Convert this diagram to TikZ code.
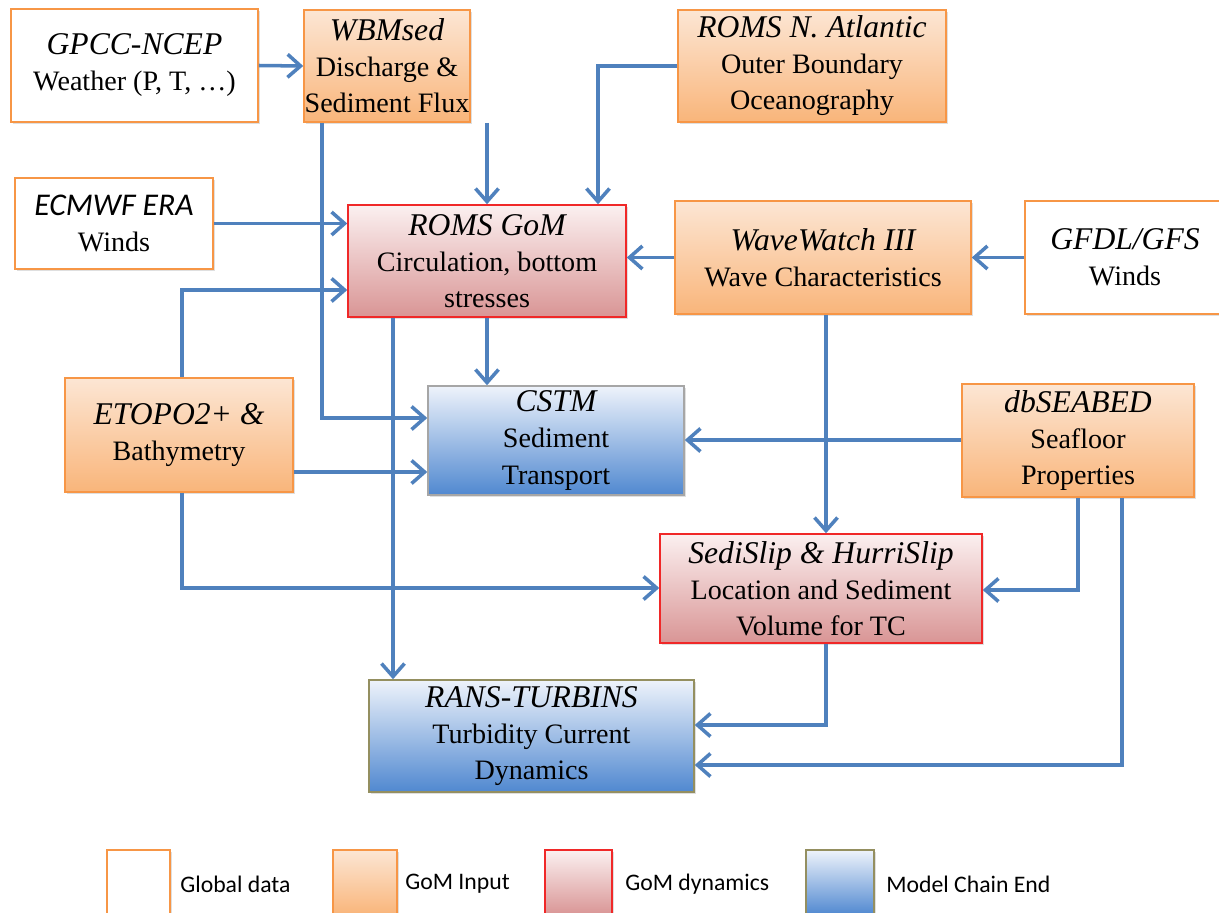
\documentclass[tikz,border=0pt]{standalone}
\usepackage{fontspec}
\setmainfont{Liberation Serif}
\newfontfamily\legendfont{Carlito}
\usetikzlibrary{arrows.meta,shadows}
\definecolor{arrowblue}{HTML}{4F81BD}
\definecolor{orangeline}{HTML}{F79646}
\definecolor{orangetop}{HTML}{FCE6D4}
\definecolor{orangebot}{HTML}{F9B57A}
\definecolor{redline}{HTML}{F02828}
\definecolor{redtop}{HTML}{FBF0F0}
\definecolor{redbot}{HTML}{D99595}
\definecolor{bluetop}{HTML}{EEF3FB}
\definecolor{bluebot}{HTML}{5088D0}
\definecolor{greyline}{HTML}{A6A6A6}
\definecolor{oliveline}{HTML}{948F60}
\begin{document}
\begin{tikzpicture}[x=0.02cm,y=-0.02cm,
  base/.style={rectangle, align=center, inner sep=0pt, line width=0.9pt,
    font=\rmfamily\fontsize{16}{20.5}\selectfont,
    drop shadow={shadow xshift=1.2pt, shadow yshift=-1.2pt, opacity=0.25}},
  globalbox/.style={base, draw=orangeline, fill=white},
  inputbox/.style={base, draw=orangeline, top color=orangetop, bottom color=orangebot},
  dynbox/.style={base, draw=redline, top color=redtop, bottom color=redbot},
  endbox/.style={base, draw=greyline, top color=bluetop, bottom color=bluebot},
  arr/.style={draw=arrowblue, line width=2pt, -{Straight Barb[length=2.6mm,width=4.6mm]}},
  legtext/.style={font=\legendfont\fontsize{13.5}{16}\selectfont, anchor=west, inner sep=0pt}
]
\useasboundingbox (0,0) rectangle (1219,912);
\fill[white] (0,0) rectangle (1219,912);
\newcommand{\tl}[1]{{\rmfamily\fontsize{18}{21}\selectfont\itshape #1}}

% nodes
\node[globalbox, minimum width=4.94cm, minimum height=2.26cm] (gpcc) at (134.5,65.5)
  {\tl{GPCC-NCEP}\\Weather (P, T, …)};
\node[inputbox, minimum width=3.32cm, minimum height=2.24cm] (wbm) at (387,66)
  {\tl{WBMsed}\\Discharge \&\\Sediment Flux};
\node[inputbox, minimum width=5.36cm, minimum height=2.24cm] (roa) at (812,66)
  {\tl{ROMS N. Atlantic}\\Outer Boundary\\Oceanography};
\node[globalbox, minimum width=3.96cm, minimum height=1.82cm] (ecmwf) at (114,223.5)
  {{\legendfont\fontsize{18}{21}\selectfont\itshape ECMWF ERA}\\Winds};
\node[dynbox, minimum width=5.56cm, minimum height=2.24cm] (gom) at (487,261)
  {\tl{ROMS GoM}\\Circulation, bottom\\stresses};
\node[inputbox, minimum width=5.92cm, minimum height=2.26cm] (ww) at (823,257.5)
  {\tl{WaveWatch III}\\Wave Characteristics};
\node[globalbox, minimum width=4.0cm, minimum height=2.26cm] (gfdl) at (1125,257.5)
  {\tl{GFDL/GFS}\\Winds};
\node[inputbox, minimum width=4.56cm, minimum height=2.28cm] (etopo) at (179,435)
  {\tl{ETOPO2+ \&}\\Bathymetry};
\node[endbox, minimum width=5.12cm, minimum height=2.18cm] (cstm) at (556,440.5)
  {\tl{CSTM}\\Sediment\\Transport};
\node[inputbox, minimum width=4.64cm, minimum height=2.26cm] (seabed) at (1078,440.5)
  {\tl{dbSEABED}\\Seafloor\\Properties};
\node[dynbox, minimum width=6.44cm, minimum height=2.18cm] (sedi) at (821,588.5)
  {\tl{SediSlip \& HurriSlip}\\Location and Sediment\\Volume for TC};
\node[endbox, draw=oliveline, minimum width=6.5cm, minimum height=2.24cm] (rans) at (531.5,736)
  {\tl{RANS-TURBINS}\\Turbidity Current\\Dynamics};

% connectors
\draw[arr] (gpcc.east) -- (wbm.west);
\draw[arr] (322,0 |- wbm.south) |- (cstm.west |- 0,418);
\draw[arr] (487,0 |- wbm.south) -- (487,0 |- gom.north);
\draw[arr] (roa.west) -| (598,0 |- gom.north);
\draw[arr] (ecmwf.east) -- (gom.west |- ecmwf.east);
\draw[arr] (182,0 |- etopo.north) |- (gom.west |- 0,290);
\draw[arr] (gfdl.west) -- (ww.east);
\draw[arr] (ww.west) -- (gom.east |- ww.west);
\draw[arr] (487,0 |- gom.south) -- (487,0 |- cstm.north);
\draw[arr] (393,0 |- gom.south) -- (393,0 |- rans.north);
\draw[arr] (etopo.east |- 0,472) -- (cstm.west |- 0,472);
\draw[arr] (182,0 |- etopo.south) |- (sedi.west |- 0,588);
\draw[arr] (826,0 |- ww.south) -- (826,0 |- sedi.north);
\draw[arr] (seabed.west |- 0,440) -- (cstm.east |- 0,440);
\draw[arr] (1078,0 |- seabed.south) |- (sedi.east |- 0,590);
\draw[arr] (1122,0 |- seabed.south) |- (rans.east |- 0,765);
\draw[arr] (826,0 |- sedi.south) |- (rans.east |- 0,725);

% legend
\node[globalbox, minimum width=1.26cm, minimum height=1.3cm] (lg1) at (138.5,882.5) {};
\node[inputbox, minimum width=1.28cm, minimum height=1.3cm] (lg2) at (365,882.5) {};
\node[dynbox, minimum width=1.34cm, minimum height=1.3cm] (lg3) at (578.5,882.5) {};
\node[endbox, draw=oliveline, minimum width=1.36cm, minimum height=1.3cm] (lg4) at (840,882.5) {};
\node[legtext] (lt1) at (180,884) {Global data};
\node[legtext] (lt2) at (405,884) {GoM Input};
\node[legtext] (lt3) at (625,884) {GoM dynamics};
\node[legtext] (lt4) at (886,884) {Model Chain End};
\end{tikzpicture}
\end{document}
